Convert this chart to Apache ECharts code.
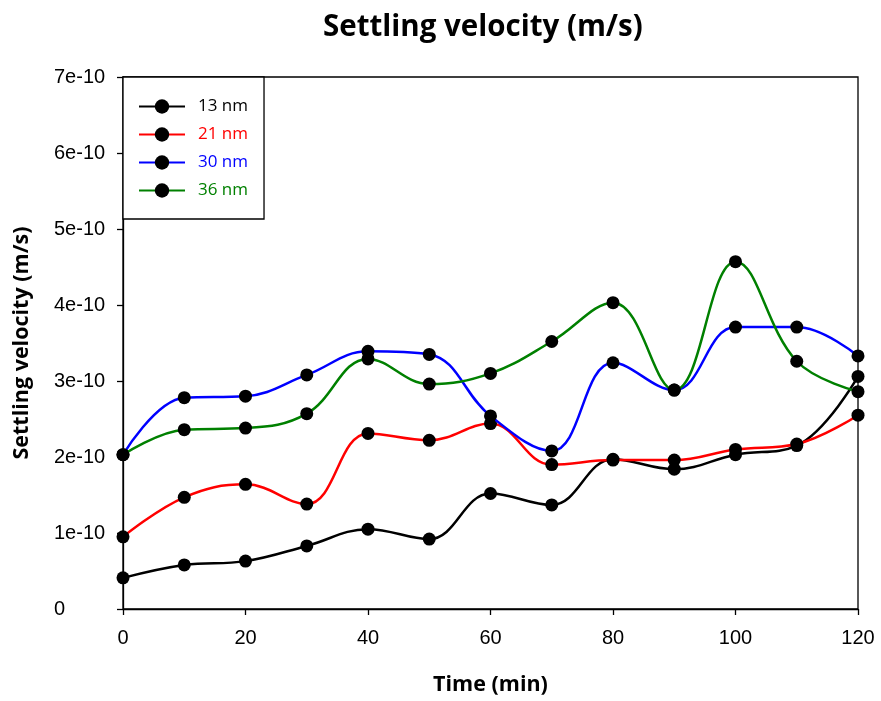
<!DOCTYPE html>
<html>
<head>
<meta charset="utf-8">
<script src="https://cdn.jsdelivr.net/npm/echarts@6/dist/echarts.min.js"></script>
<style>html,body{margin:0;padding:0;background:#fff}#c{width:881px;height:701px}</style>
</head>
<body>
<div id="c"></div>
<script>
// Time (min)
const times = [0, 10, 20, 30, 40, 50, 60, 70, 80, 90, 100, 110, 120];
// Settling velocity in units of 1e-10 m/s
const v13 = [0.41, 0.58, 0.63, 0.83, 1.05, 0.92, 1.52, 1.37, 1.97, 1.84, 2.03, 2.15, 3.06];
const v21 = [0.95, 1.47, 1.64, 1.38, 2.31, 2.22, 2.44, 1.90, 1.96, 1.96, 2.10, 2.17, 2.55];
const v30 = [2.03, 2.78, 2.80, 3.08, 3.39, 3.35, 2.54, 2.08, 3.24, 2.88, 3.71, 3.71, 3.33];
const v36 = [2.03, 2.36, 2.38, 2.57, 3.29, 2.96, 3.10, 3.52, 4.03, 2.88, 4.57, 3.26, 2.86];
const seriesNames = ['13 nm', '21 nm', '30 nm', '36 nm'];
const seriesColors = ['#000000', '#ff0000', '#0000ff', '#008000'];
const seriesValues = [v13, v21, v30, v36];

const chart = echarts.init(document.getElementById('c'));
const series = seriesNames.map((n, i) => ({
  name: n,
  type: 'line',
  smooth: 0.4,
  data: times.map((t, j) => [t, seriesValues[i][j]]),
  symbol: 'circle',
  symbolSize: 13,
  lineStyle: { color: seriesColors[i], width: 2.5 },
  itemStyle: { color: '#000000' },
  z: 2 + i
}));

chart.setOption({
  animation: false,
  backgroundColor: '#ffffff',
  title: {
    text: 'Settling velocity (m/s)',
    left: 318,
    top: 8,
    textStyle: { fontFamily: 'Open Sans', fontWeight: 'bold', fontSize: 29.5, color: '#000' }
  },
  grid: { left: 123, right: 23, top: 77, bottom: 91, show: true, borderColor: '#000', borderWidth: 1.3, backgroundColor: 'transparent' },
  legend: {
    orient: 'vertical',
    left: 123,
    top: 77,
    padding: [21, 16, 20, 15],
    itemGap: 11,
    itemWidth: 46,
    itemHeight: 18,
    borderColor: '#000',
    borderWidth: 1.3,
    backgroundColor: '#fff',
    data: seriesNames.map((n, i) => ({
      name: n,
      textStyle: { color: seriesColors[i], fontFamily: 'Open Sans', fontSize: 17, padding: [0, 0, 0, 8] }
    }))
  },
  xAxis: {
    type: 'value',
    min: 0, max: 120, interval: 20,
    name: 'Time (min)',
    nameLocation: 'middle',
    nameGap: 65,
    nameTextStyle: { fontFamily: 'Open Sans', fontWeight: 'bold', fontSize: 21.5, color: '#000' },
    axisLine: { show: true, onZero: false, lineStyle: { color: '#000', width: 1.3 } },
    axisTick: { show: true, inside: false, length: 6, lineStyle: { color: '#000', width: 1.3 } },
    axisLabel: { margin: 19, fontFamily: 'Liberation Sans', fontSize: 20, color: '#000' },
    splitLine: { show: false }
  },
  yAxis: {
    type: 'value',
    min: 0, max: 7, interval: 1,
    name: 'Settling velocity (m/s)',
    nameLocation: 'middle',
    nameGap: 90,
    nameTextStyle: { fontFamily: 'Open Sans', fontWeight: 'bold', fontSize: 21.5, color: '#000' },
    axisLine: { show: true, onZero: false, lineStyle: { color: '#000', width: 1.3 } },
    axisTick: { show: true, inside: false, length: 6, lineStyle: { color: '#000', width: 1.3 } },
    axisLabel: {
      margin: 69, align: 'left', fontFamily: 'Liberation Sans', fontSize: 20, color: '#000',
      formatter: v => (Math.round(v) === 0 ? '0' : Math.round(v) + 'e-10')
    },
    splitLine: { show: false }
  },
  series: series
});
</script>
</body>
</html>
